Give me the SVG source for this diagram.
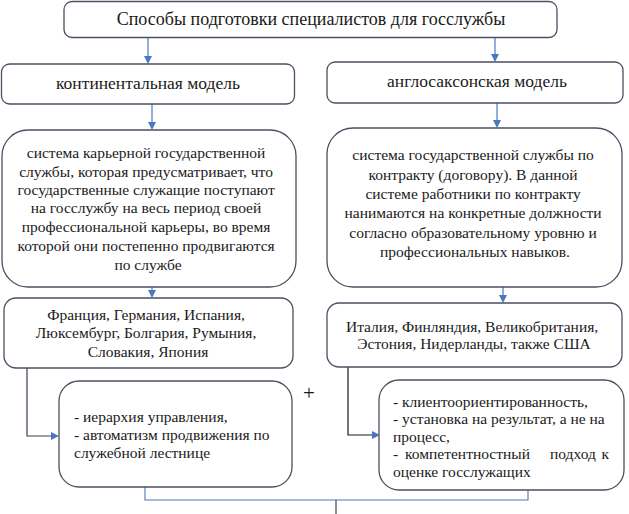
<svg xmlns="http://www.w3.org/2000/svg" width="629" height="514" viewBox="0 0 629 514">
<defs>
<style>
.box{fill:#fff;stroke:#4a5060;stroke-width:1.3}
text{font-family:'Liberation Serif','Times New Roman',serif;font-size:15.5px;fill:#1a1a1a}
.c{text-anchor:middle}
.hd{font-size:17.5px}
.ln{fill:none;stroke:#4a78c0;stroke-width:1.2}
.dk{fill:none;stroke:#333;stroke-width:1.1}
.ah{fill:#4a78c0;stroke:none}
</style>
<path id="head" d="M-4,-8 L0,0 L4,-8 z"/>
</defs>
<rect width="629" height="514" fill="#fff"/>
<g id="connectors">
<line class="ln" x1="148" y1="38" x2="148" y2="60"/>
<use href="#head" class="ah" transform="translate(148,64)"/>
<line class="ln" x1="495" y1="38" x2="495" y2="58"/>
<use href="#head" class="ah" transform="translate(495,62)"/>
<line class="ln" x1="152" y1="104" x2="152" y2="126"/>
<use href="#head" class="ah" transform="translate(152,130)"/>
<line class="ln" x1="497" y1="103" x2="497" y2="124"/>
<use href="#head" class="ah" transform="translate(497,128)"/>
<line class="ln" x1="152" y1="287" x2="152" y2="294"/>
<use href="#head" class="ah" transform="translate(152,298)"/>
<line class="ln" x1="503" y1="287" x2="503" y2="299"/>
<use href="#head" class="ah" transform="translate(503,303)"/>
<path class="ln" d="M27,368 V436 H55" style="stroke:#3a3f55"/>
<use href="#head" class="ah" transform="translate(59,436) rotate(-90)"/>
<path class="ln" d="M348,367 V435 H376" style="stroke:#1a1a1a"/>
<use href="#head" class="ah" transform="translate(380,435) rotate(-90)"/>
<path class="dk" d="M145,487 V500 H528 V488" style="stroke:#4a78c0"/>
<line class="dk" x1="336" y1="500" x2="336" y2="514"/>
</g>
<g id="title">
<rect class="box" x="64" y="1.5" width="493" height="36" rx="8"/>
<text class="c" x="311" y="25" style="font-size:18px">Способы подготовки специалистов для госслужбы</text>
</g>
<g id="continental">
<rect class="box" x="1.5" y="64" width="293" height="40" rx="8"/>
<text class="c hd" x="148" y="89">континентальная модель</text>
</g>
<g id="anglosaxon">
<rect class="box" x="327" y="62" width="296" height="41" rx="8"/>
<text class="c hd" x="477" y="87">англосаксонская модель</text>
</g>
<g id="cont-desc">
<rect class="box" x="2" y="130" width="294" height="157" rx="26"/>
<text class="c">
<tspan x="148" y="158">система карьерной государственной</tspan>
<tspan x="148" y="177">службы, которая предусматривает, что</tspan>
<tspan x="148" y="195">государственные служащие поступают</tspan>
<tspan x="148" y="213">на госслужбу на весь период своей</tspan>
<tspan x="148" y="232">профессиональной карьеры, во время</tspan>
<tspan x="148" y="251">которой они постепенно продвигаются</tspan>
<tspan x="148" y="270">по службе</tspan>
</text>
</g>
<g id="anglo-desc">
<rect class="box" x="327" y="128" width="295" height="159" rx="26"/>
<text class="c">
<tspan x="475" y="160">система государственной службы по</tspan>
<tspan x="475" y="180">контракту (договору). В данной</tspan>
<tspan x="475" y="199">системе работники по контракту</tspan>
<tspan x="475" y="218">нанимаются на конкретные должности</tspan>
<tspan x="475" y="238">согласно образовательному уровню и</tspan>
<tspan x="475" y="257">профессиональных навыков.</tspan>
</text>
</g>
<g id="cont-countries">
<rect class="box" x="4" y="298" width="289" height="70" rx="12"/>
<text class="c">
<tspan x="148" y="320">Франция, Германия, Испания,</tspan>
<tspan x="148" y="338">Люксембург, Болгария, Румыния,</tspan>
<tspan x="148" y="357">Словакия, Япония</tspan>
</text>
</g>
<g id="anglo-countries">
<rect class="box" x="327" y="303" width="295" height="64" rx="12"/>
<text class="c">
<tspan x="474" y="332">Италия, Финляндия, Великобритания,</tspan>
<tspan x="474" y="349">Эстония, Нидерланды, также США</tspan>
</text>
</g>
<g id="cont-features">
<rect class="box" x="59" y="381" width="233" height="106" rx="20"/>
<text>
<tspan x="74" y="422">- иерархия управления,</tspan>
<tspan x="74" y="440">- автоматизм продвижения по</tspan>
<tspan x="74" y="458">служебной лестнице</tspan>
</text>
</g>
<g id="plus">
<text class="c" x="309" y="400" style="font-size:21px">+</text>
</g>
<g id="anglo-features">
<rect class="box" x="379" y="380" width="245" height="110" rx="20"/>
<text>
<tspan x="393" y="407">- клиентоориентированность,</tspan>
<tspan x="393" y="424">- установка на результат, а не на</tspan>
<tspan x="393" y="442">процесс,</tspan>
<tspan x="393" y="459">-</tspan><tspan x="405" y="459">компетентностный</tspan><tspan x="550" y="459">подход</tspan><tspan x="613" y="459" text-anchor="end">к</tspan>
<tspan x="393" y="477">оценке госслужащих</tspan>
</text>
</g>
</svg>
